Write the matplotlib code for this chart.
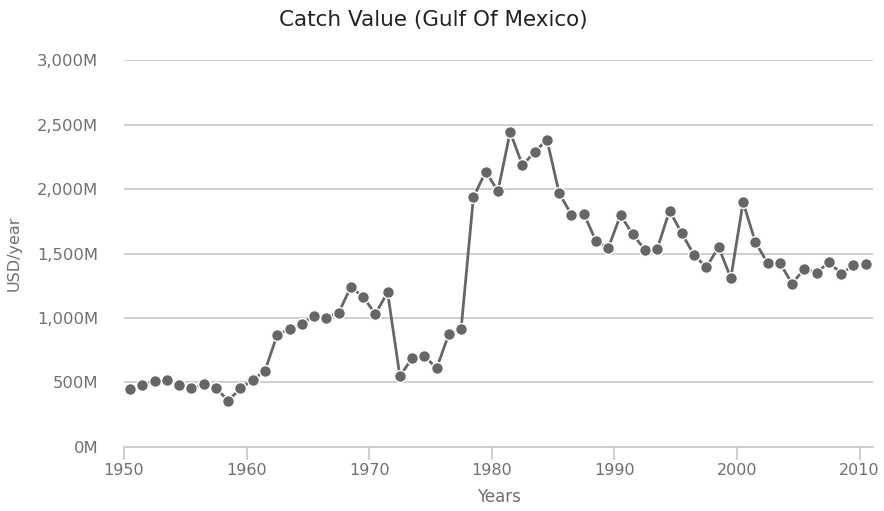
import numpy as np
import matplotlib
matplotlib.use("Agg")
from matplotlib import pyplot as plt
from matplotlib.ticker import FuncFormatter

years = np.arange(1950, 2011)
catch_value = [448, 479, 510, 516, 477, 453, 484, 456, 357, 453,
               518, 590, 870, 912, 953, 1017, 1002, 1040, 1238, 1165,
               1030, 1199, 549, 686, 704, 609, 875, 916, 1936, 2135,
               1985, 2443, 2185, 2288, 2384, 1967, 1801, 1809, 1597, 1543,
               1797, 1649, 1527, 1537, 1832, 1657, 1488, 1393, 1550, 1310,
               1898, 1589, 1426, 1426, 1266, 1382, 1349, 1434, 1343, 1408,
               1416]
y_ticks = [0, 500, 1000, 1500, 2000, 2500, 3000]
x_ticks = [1950, 1960, 1970, 1980, 1990, 2000, 2010]

gray = "#666666"
label_gray = "#707070"

fig = plt.figure(figsize=(8.84, 5.11), dpi=100)
ax = fig.add_axes([0.1403, 0.1258, 0.8473, 0.7562])

# points sit at mid-year
ax.plot(years + 0.5, catch_value, color=gray, linewidth=2, marker="o",
        markersize=8.5, markerfacecolor=gray, markeredgecolor="white",
        markeredgewidth=1, zorder=3, clip_on=False)

ax.set_xlim(1950, 2011.1)
ax.set_ylim(0, 3000)
ax.set_yticks(y_ticks)
ax.set_xticks(x_ticks)
ax.yaxis.set_major_formatter(FuncFormatter(lambda v, p: f"{int(v):,}M"))
ax.grid(axis="y", color="#cccccc", linewidth=1.3)
ax.set_axisbelow(True)

for side in ["top", "right", "left"]:
    ax.spines[side].set_visible(False)
ax.spines["bottom"].set_color("#cccccc")
ax.spines["bottom"].set_linewidth(1.3)

ax.tick_params(axis="y", length=0, pad=18.5, labelsize=11.8, labelcolor=label_gray)
ax.tick_params(axis="x", length=9, width=1.3, color="#cccccc", pad=3,
               labelsize=11.5, labelcolor=label_gray)

ax.set_xlabel("Years", fontsize=12, color=label_gray, labelpad=7)
ax.set_ylabel("USD/year", fontsize=11.5, color=label_gray, labelpad=11)

fig.text(0.49, 0.96, "Catch Value (Gulf Of Mexico)", ha="center", va="center",
         fontsize=15.5, color="#222222")

fig.savefig("out.png", dpi=100)
